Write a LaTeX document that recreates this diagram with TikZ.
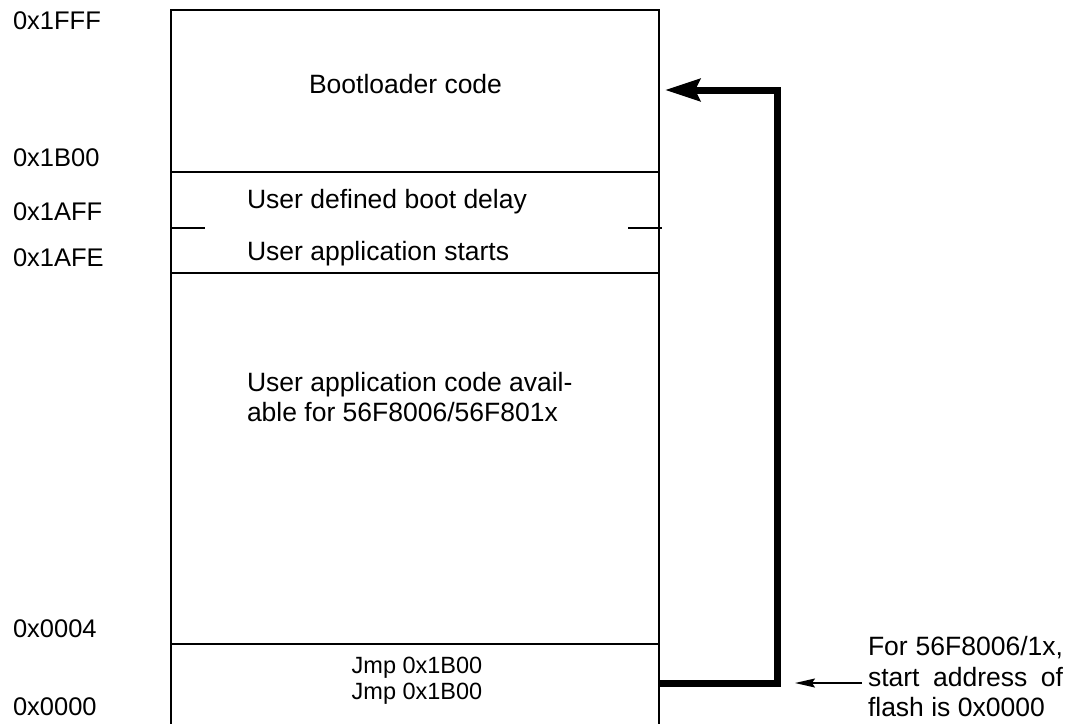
\documentclass[tikz,border=0pt]{standalone}
\usepackage{fontspec}
\setmainfont{Liberation Sans}
\usetikzlibrary{arrows.meta,positioning}

\begin{document}
\begin{tikzpicture}[x=1pt,y=-1pt,>=Stealth,
  every node/.style={font=\fontsize{26.5}{30}\selectfont,inner sep=0pt,outer sep=0pt},
  region/.style={draw,line width=2pt,minimum width=488pt},
  addr/.style={anchor=base west,font=\fontsize{25.5}{30}\selectfont},
  tag/.style={anchor=base west},
  jmptext/.style={anchor=base,font=\fontsize{23.5}{26}\selectfont}]
\useasboundingbox (0,0) rectangle (1075,723);
\clip (0,0) rectangle (1075,723);
\node[region,minimum height=162pt] (boot) at (415,91) {};
\node[region,minimum height=101pt,below=0pt of boot] (delay) {};
\node[region,minimum height=371pt,below=0pt of delay] (app) {};
\node[region,minimum height=82pt,below=0pt of app] (jmp) {};
\draw[line width=2pt] (171,228) -- (205,228) (628,228) -- (662,228);
\node[addr] (a1fff) at (13,29) {0x1FFF};
\node[addr] (a1b00) at (13,166) {0x1B00};
\node[addr] (a1aff) at (13,220) {0x1AFF};
\node[addr] (a1afe) at (13,266) {0x1AFE};
\node[addr] (a0004) at (13,637) {0x0004};
\node[addr] (a0000) at (13,715) {0x0000};
\node[tag] (bootcode) at (309,93) {Bootloader code};
\node[tag] (bootdelay) at (247,208) {User defined boot delay};
\node[tag] (appstart) at (247,260) {User application starts};
\node[anchor=north west,align=left] (appcode) at (247,372) {User application code avail-\\able for 56F8006/56F801x};
\node[jmptext] (jmp1) at (417,673) {Jmp 0x1B00};
\node[jmptext] (jmp2) at (417,699) {Jmp 0x1B00};
\node[tag] (note1) at (868,655) {\makebox[195pt][s]{For 56F8006/1x,}};
\node[tag] (note2) at (868,686) {\makebox[195pt][s]{start address of}};
\node[tag] (note3) at (868,716) {flash is 0x0000};
\coordinate (hit) at (795,683);
\draw[line width=7pt,-{Stealth[length=35pt,width=22pt,inset=5pt]}] ([yshift=2pt]jmp.east) -- ++(118,0) |- ([xshift=6pt,yshift=1pt]boot.east);
\draw[line width=1.5pt,-{Stealth[length=20pt,width=9pt,inset=3pt]}] ([xshift=-6pt,yshift=3pt]note2.base west) -- (hit);
\end{tikzpicture}
\end{document}
